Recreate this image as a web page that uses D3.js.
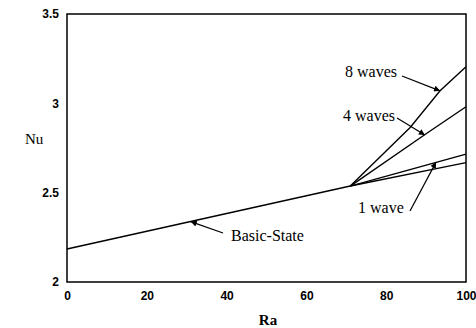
<!DOCTYPE html>
<html>
<head>
<meta charset="utf-8">
<script src="https://cdn.jsdelivr.net/npm/d3@7"></script>
<style>
  body { margin: 0; background: #fff; }
  .tick text { font-family: "Liberation Sans", Arial, sans-serif; font-weight: bold; font-size: 12px; }
  .note { font-family: "Liberation Serif", "Times New Roman", serif; font-size: 16px; }
</style>
</head>
<body>
<svg id="chart" width="476" height="328"></svg>
<script>
// Nu vs Ra
const xTicks = [0, 20, 40, 60, 80, 100];
const yTicks = [2, 2.5, 3, 3.5];
const yTickLabels = ["2", "2.5", "3", "3.5"];

const basicRa = [0, 71, 100];
const basicNu = [2.185, 2.537, 2.668];
const wave1Ra = [71, 100];
const wave1Nu = [2.537, 2.716];
const wave4Ra = [71, 90, 100];
const wave4Nu = [2.537, 2.83, 2.981];
const wave8Ra = [71, 86, 93.5, 100];
const wave8Nu = [2.537, 2.865, 3.07, 3.205];

// annotations: label, text anchor point, arrow from -> to (data units for the tip)
const notes = [
  { text: "8 waves", tx: 345, ty: 77, from: [402, 76], tip: [93.5, 3.07] },
  { text: "4 waves", tx: 343, ty: 121, from: [397, 118], tip: [89.7, 2.823] },
  { text: "1 wave", tx: 358, ty: 213, from: [410, 211], tip: [92.5, 2.671] },
  { text: "Basic-State", tx: 231, ty: 241, from: [223, 233], tip: [31, 2.338] }
];

const svg = d3.select("#chart");
const margin = { top: 14, right: 10, bottom: 46, left: 67 };
const width = 476 - margin.left - margin.right;
const height = 328 - margin.top - margin.bottom;

const g = svg.append("g").attr("transform", `translate(${margin.left},${margin.top})`);

const x = d3.scaleLinear().domain([0, 100]).range([0, width]);
const y = d3.scaleLinear().domain([2, 3.5]).range([height, 0]);

svg.append("defs").append("marker")
  .attr("id", "arrow")
  .attr("viewBox", "0 0 10 10")
  .attr("refX", 10).attr("refY", 5)
  .attr("markerWidth", 10).attr("markerHeight", 6)
  .attr("markerUnits", "userSpaceOnUse")
  .attr("orient", "auto")
  .append("path")
  .attr("d", "M0,0 L10,5 L0,10 Z")
  .attr("fill", "#000");

// frame
g.append("rect")
  .attr("width", width).attr("height", height)
  .attr("fill", "none").attr("stroke", "#000").attr("stroke-width", 1.5);

g.append("g")
  .attr("transform", `translate(0,${height})`)
  .call(d3.axisBottom(x).tickValues(xTicks).tickSize(0).tickPadding(9))
  .call(s => s.select(".domain").remove());

g.append("g")
  .call(d3.axisLeft(y).tickValues(yTicks).tickSize(0).tickPadding(8)
    .tickFormat((d, i) => yTickLabels[i]))
  .call(s => s.select(".domain").remove());

const line = d3.line().x(d => x(d[0])).y(d => y(d[1]));
const series = [
  d3.zip(basicRa, basicNu),
  d3.zip(wave1Ra, wave1Nu),
  d3.zip(wave4Ra, wave4Nu),
  d3.zip(wave8Ra, wave8Nu)
];

g.selectAll("path.curve")
  .data(series)
  .enter()
  .append("path")
  .attr("class", "curve")
  .attr("d", line)
  .attr("fill", "none")
  .attr("stroke", "#000")
  .attr("stroke-width", 1.4);

notes.forEach(n => {
  svg.append("line")
    .attr("x1", n.from[0]).attr("y1", n.from[1])
    .attr("x2", x(n.tip[0]) + margin.left).attr("y2", y(n.tip[1]) + margin.top)
    .attr("stroke", "#000").attr("stroke-width", 1.2)
    .attr("marker-end", "url(#arrow)");
  svg.append("text")
    .attr("class", "note")
    .attr("x", n.tx).attr("y", n.ty)
    .text(n.text);
});

svg.append("text")
  .attr("class", "note")
  .attr("x", 25).attr("y", 144)
  .style("font-size", "15px")
  .text("Nu");

svg.append("text")
  .attr("class", "note")
  .attr("x", 268).attr("y", 325)
  .attr("text-anchor", "middle")
  .style("font-size", "15px")
  .style("font-weight", "bold")
  .text("Ra");
</script>
</body>
</html>
